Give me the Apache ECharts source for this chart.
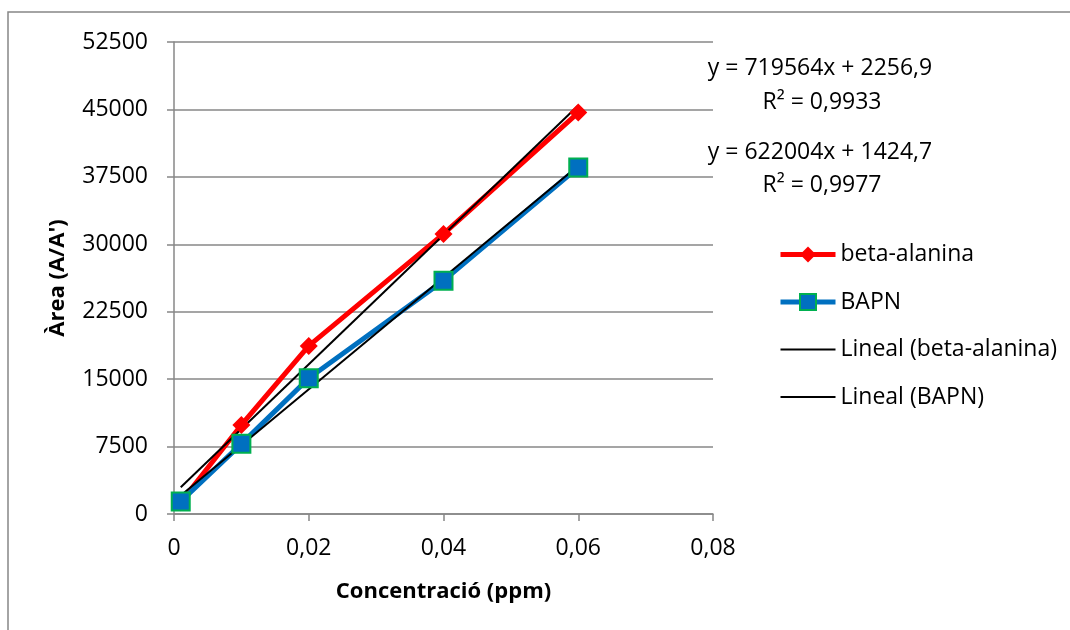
<!DOCTYPE html>
<html>
<head>
<meta charset="UTF-8">
<title>Àrea vs Concentració</title>
<script src="https://cdn.jsdelivr.net/npm/echarts/dist/echarts.min.js"></script>
<style>
body{margin:0;background:#fff;}
</style>
</head>
<body>
<div id="charts" style="width:1070px;height:630px"></div>
<script type="text/javascript">
// concentracions (ppm)
var conc=[0.001,0.01,0.02,0.04,0.06];
// àrees llegides del gràfic
var betaAlanina=[1300,9900,18700,31150,44650];
var bapn=[1400,7800,15100,25950,38550];
// rectes de tendència (extrems)
var trendX=[0.001,0.06];
var trendBeta=[2976,45431];
var trendBapn=[2047,38745];
var eqTexts=['y = 719564x + 2256,9','R² = 0,9933','y = 622004x + 1424,7','R² = 0,9977'];

function pairs(xs,ys){
	var out=[];
	for(var i=0;i<xs.length;i++){
		out.push([xs[i],ys[i]]);
	}
	return out;
}

var font='"Open Sans", "Noto Sans", sans-serif';
var gray='#878787';
// icona de llegenda: només una línia fina
var thinLine='path://M0,0h55v1.8h-55z';

var mychart=echarts.init(document.getElementById('charts'));
var option={
	backgroundColor:'#fff',
	animation:false,
	textStyle:{fontFamily:font,color:'#000'},
	grid:{left:174,top:42,width:539,height:472,containLabel:false},
	legend:{
		orient:'vertical',
		left:778,
		top:243,
		padding:0,
		itemWidth:55,
		itemHeight:20,
		itemGap:24.5,
		symbolKeepAspect:true,
		textStyle:{fontFamily:font,fontSize:23,color:'#000'},
		data:[
			{name:'beta-alanina',lineStyle:{width:5}},
			{name:'BAPN',lineStyle:{width:5}},
			{name:'Lineal (beta-alanina)',icon:thinLine},
			{name:'Lineal (BAPN)',icon:thinLine}
		]
	},
	xAxis:{
		type:'value',
		min:0,
		max:0.08,
		interval:0.02,
		name:'Concentració (ppm)',
		nameLocation:'middle',
		nameGap:67,
		nameTextStyle:{fontFamily:font,fontSize:22,fontWeight:'bold',color:'#000'},
		axisLine:{show:true,lineStyle:{color:gray,width:1.5}},
		axisTick:{show:true,length:7,lineStyle:{color:gray,width:1.5}},
		axisLabel:{
			fontFamily:font,fontSize:23,color:'#000',margin:23,
			formatter:function(v){return String(+v.toFixed(2)).replace('.',',');}
		},
		splitLine:{show:false}
	},
	yAxis:{
		type:'value',
		min:0,
		max:52500,
		interval:7500,
		name:'Àrea (A/A\')',
		nameLocation:'middle',
		nameGap:105,
		nameTextStyle:{fontFamily:font,fontSize:22,fontWeight:'bold',color:'#000'},
		axisLine:{show:true,lineStyle:{color:gray,width:1.5}},
		axisTick:{show:true,length:7,lineStyle:{color:gray,width:1.5}},
		axisLabel:{
			fontFamily:font,fontSize:23,color:'#000',margin:26,
			formatter:function(v){return String(v);}
		},
		splitLine:{show:true,lineStyle:{color:gray,width:1.5}}
	},
	graphic:[
		{type:'rect',shape:{x:8,y:12,width:1100,height:700},style:{fill:'none',stroke:gray,lineWidth:1.5},silent:true},
		{type:'text',x:820,y:68,style:{text:eqTexts[0],font:'23px '+font,fill:'#000',align:'center',verticalAlign:'middle'}},
		{type:'text',x:822,y:102,style:{text:eqTexts[1],font:'23px '+font,fill:'#000',align:'center',verticalAlign:'middle'}},
		{type:'text',x:820,y:152,style:{text:eqTexts[2],font:'23px '+font,fill:'#000',align:'center',verticalAlign:'middle'}},
		{type:'text',x:822,y:185,style:{text:eqTexts[3],font:'23px '+font,fill:'#000',align:'center',verticalAlign:'middle'}}
	],
	series:[
		{
			name:'beta-alanina',
			type:'line',
			data:pairs(conc,betaAlanina),
			symbol:'diamond',
			symbolSize:18,
			lineStyle:{color:'#ff0000',width:5},
			itemStyle:{color:'#ff0000'}
		},
		{
			name:'BAPN',
			type:'line',
			data:pairs(conc,bapn),
			symbol:'rect',
			symbolSize:18,
			lineStyle:{color:'#0070c0',width:5},
			itemStyle:{color:'#0070c0',borderColor:'#00b050',borderWidth:2}
		},
		{
			name:'Lineal (beta-alanina)',
			type:'line',
			data:pairs(trendX,trendBeta),
			symbol:'none',
			lineStyle:{color:'#000',width:2},
			itemStyle:{color:'#000'}
		},
		{
			name:'Lineal (BAPN)',
			type:'line',
			data:pairs(trendX,trendBapn),
			symbol:'none',
			lineStyle:{color:'#000',width:2},
			itemStyle:{color:'#000'}
		}
	]
};
mychart.setOption(option);
</script>
</body>
</html>
